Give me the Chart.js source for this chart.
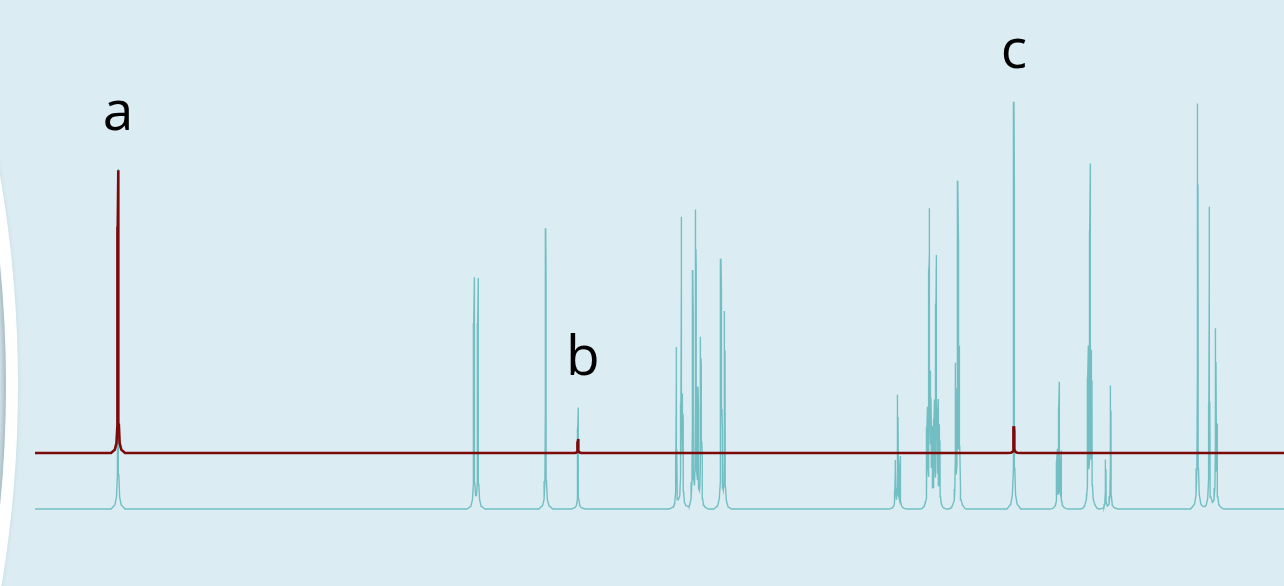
<!DOCTYPE html>
<html>
<head>
<meta charset="utf-8">
<script src="https://cdn.jsdelivr.net/npm/chart.js@4/dist/chart.umd.min.js"></script>
<style>
  html, body { margin: 0; padding: 0; background: #DBEDF3; }
  #wrap { width: 1284px; height: 586px; }
</style>
</head>
<body>
<div id="wrap"><canvas id="c" width="1284" height="586"></canvas></div>
<script>
// ---- Data (chemical shift in ppm, intensity in arbitrary units) ----
const tealShift  = [9.335, 6.485, 6.453, 5.911, 5.652,
  4.865, 4.825, 4.814, 4.734, 4.710, 4.692, 4.670, 4.662, 4.508, 4.500, 4.478,
  3.112, 3.093, 3.074,
  2.856, 2.840, 2.829, 2.818, 2.800, 2.784, 2.770, 2.757,
  2.629, 2.612, 2.600,
  2.162,
  1.817, 1.801, 1.785,
  1.569, 1.553, 1.540,
  1.428, 1.388,
  0.691, 0.598, 0.547, 0.536];
const tealHeight = [85, 57.4, 57.2, 70.2, 25.4,
  40.0, 71.5, 25.0, 58.5, 73.0, 27.5, 41.0, 13.0, 60.5, 19.0, 48.5,
  11.5, 28.0, 12.5,
  23.0, 72.5, 29.0, 16.5, 24.0, 61.5, 24.5, 19.5,
  34.0, 79.5, 37.0,
  101.8,
  14.0, 31.0, 13.6,
  38.0, 84.0, 36.5,
  12.2, 30.8,
  101.4, 75.5, 44.0, 19.0];
const redShift   = [9.335, 5.652, 2.162];
const redHeight  = [70.7, 3.5, 6.7];
const redOffset  = 14;            // stacked spectrum offset
const peakLabels = ['a', 'b', 'c'];
const labelShift = [9.335, 5.613, 2.162];
const labelLevel = [94.75, 33.5, 110.25];
const shiftMin = 0, shiftMax = 10;

// ---- line shape rendering (piecewise-linear peak profile) ----
const PX_PER_PPM = 124.9;
const profile = [[-7,0],[-3.2,0.012],[-1.6,0.035],[-0.8,0.1],[-0.45,0.35],[-0.3,0.8],[0,1],
                 [0.3,0.8],[0.45,0.35],[0.8,0.1],[1.6,0.035],[3.2,0.012],[7,0]];
function contrib(x, c, h) {
  const d = (x - c) * PX_PER_PPM;
  if (d <= profile[0][0] || d >= profile[profile.length-1][0]) return 0;
  for (let i = 0; i < profile.length - 1; i++) {
    const [x0, y0] = profile[i], [x1, y1] = profile[i+1];
    if (d >= x0 && d <= x1) return h * (y0 + (y1 - y0) * (d - x0) / (x1 - x0));
  }
  return 0;
}
function buildTrace(shifts, heights, offset) {
  const xs = new Set([shiftMin, shiftMax]);
  shifts.forEach(c => profile.forEach(p => xs.add(+(c + p[0] / PX_PER_PPM).toFixed(5))));
  const sorted = [...xs].filter(x => x >= shiftMin && x <= shiftMax).sort((a, b) => a - b);
  return sorted.map(x => {
    let y = offset;
    shifts.forEach((c, i) => { y += contrib(x, c, heights[i]); });
    return { x, y };
  });
}

const bgPlugin = {
  id: 'bg',
  beforeDraw(chart) {
    const ctx = chart.ctx;
    ctx.save();
    ctx.fillStyle = '#DBEDF3';
    ctx.fillRect(0, 0, chart.width, chart.height);
    // decorative arc at the left edge
    ctx.beginPath();
    ctx.arc(-1207, 385, 1219, -0.3, 0.3);
    ctx.strokeStyle = '#FFFFFF';
    ctx.lineWidth = 12;
    ctx.shadowColor = 'rgba(90,110,120,0.45)';
    ctx.shadowBlur = 6;
    ctx.shadowOffsetX = -3;
    ctx.stroke();
    ctx.restore();
  }
};
const labelPlugin = {
  id: 'peakLabels',
  afterDatasetsDraw(chart) {
    const ctx = chart.ctx, xs = chart.scales.x, ys = chart.scales.y;
    ctx.save();
    ctx.fillStyle = '#000000';
    ctx.font = '55px "Open Sans", Lato, sans-serif';
    ctx.textAlign = 'center';
    ctx.textBaseline = 'alphabetic';
    peakLabels.forEach((t, i) => {
      ctx.fillText(t, xs.getPixelForValue(labelShift[i]), ys.getPixelForValue(labelLevel[i]));
    });
    ctx.restore();
  }
};

new Chart(document.getElementById('c'), {
  type: 'line',
  data: {
    datasets: [
      { label: 'red', data: buildTrace(redShift, redHeight, redOffset),
        borderColor: '#7D0A0A', borderWidth: 2.6, pointRadius: 0, tension: 0, fill: false },
      { label: 'teal', data: buildTrace(tealShift, tealHeight, 0),
        borderColor: '#72BEC2', borderWidth: 1.4, pointRadius: 0, tension: 0, fill: false }
    ]
  },
  options: {
    responsive: false,
    animation: false,
    devicePixelRatio: 1,
    layout: { padding: { left: 35, right: 0, top: 0, bottom: 0 } },
    scales: {
      x: { type: 'linear', reverse: true, min: shiftMin, max: shiftMax, display: false },
      y: { type: 'linear', min: -19.25, max: 127.25, display: false }
    },
    plugins: { legend: { display: false }, tooltip: { enabled: false } }
  },
  plugins: [bgPlugin, labelPlugin]
});
</script>
</body>
</html>
